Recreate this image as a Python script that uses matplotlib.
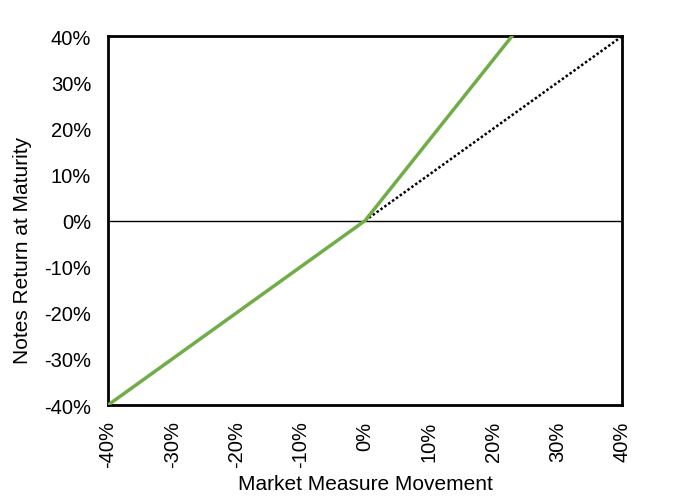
import matplotlib
matplotlib.use("Agg")
import matplotlib.pyplot as plt
from matplotlib.ticker import FuncFormatter

plt.rcParams['font.family'] = ['Liberation Sans', 'DejaVu Sans']

# market movement (%) and note return (%)
market_move = [-40, 0, 40]
notes_return = [-40, 0, 70]   # 175% upside participation, clipped by the axes
ref_move = [0, 40]
ref_return = [0, 40]

ticks = [-40, -30, -20, -10, 0, 10, 20, 30, 40]

fig = plt.figure(figsize=(6.83, 5.02), dpi=100)
ax = fig.add_axes([0.158, 0.191, 0.753, 0.735])

ax.axhline(0, color='black', lw=1.0, zorder=1)
ax.plot(ref_move, ref_return, color='black', lw=1.8, linestyle=(0, (1, 0.9)), zorder=2)
ax.plot(market_move, notes_return, color='#70AD47', lw=2.5, zorder=3, solid_capstyle='butt')

ax.set_xlim(-40, 40)
ax.set_ylim(-40, 40)
ax.set_xticks(ticks)
ax.set_yticks(ticks)
fmt = FuncFormatter(lambda v, p: f"{v:.0f}%")
ax.xaxis.set_major_formatter(fmt)
ax.yaxis.set_major_formatter(fmt)
ax.tick_params(length=0, labelsize=14.5)
ax.tick_params(axis='y', pad=12)
ax.tick_params(axis='x', pad=11)
plt.setp(ax.get_xticklabels(), rotation=90)

for s in ax.spines.values():
    s.set_linewidth(2.0)
    s.set_color('black')

ax.set_xlabel('Market Measure Movement', fontsize=15, labelpad=5)
ax.set_ylabel('Notes Return at Maturity', fontsize=15)
ax.yaxis.set_label_coords(-0.148, 0.423)

fig.savefig('out.png', dpi=100)
